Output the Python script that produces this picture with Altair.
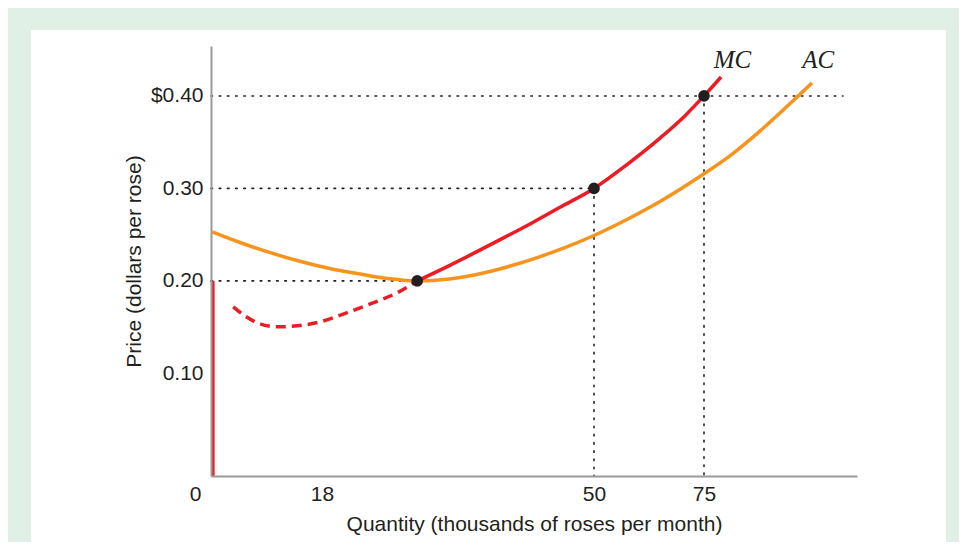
import altair as alt
import pandas as pd

# ---- data ----
Y_MIN = -0.011  # price level where the quantity axis sits

AC_Q = [0.2, 4.7, 9.1, 14.4, 19.3, 22.5, 25.2, 27.2, 29.2, 31.1, 35.1, 38.9, 42.8,
        46.8, 50.0, 60.5, 65.0, 75.0, 81.0, 87.8, 96.7, 99.7]
AC_P = [0.2530, 0.2415, 0.2316, 0.2212, 0.2126, 0.2074, 0.2032, 0.2011, 0.2000,
        0.2005, 0.2050, 0.2129, 0.2236, 0.2368, 0.2491, 0.2739, 0.2858, 0.3158,
        0.3355, 0.3620, 0.4006, 0.4140]

MC_DASH_Q = [3.6, 5.5, 7.5, 10.7, 14.0, 17.7, 20.9, 24.0, 26.8, 29.2]
MC_DASH_P = [0.1719, 0.1622, 0.1546, 0.1503, 0.1514, 0.1557, 0.1654, 0.1762, 0.1870, 0.200]

MC_Q = [29.2, 33.1, 38.9, 42.8, 46.0, 50.0, 57.5, 65.0, 70.7, 75.0, 78.9]
MC_P = [0.200, 0.2171, 0.2443, 0.2632, 0.2796, 0.300, 0.3258, 0.3544, 0.3787,
        0.400, 0.4205]

PTS_Q = [29.2, 50, 75]
PTS_P = [0.20, 0.30, 0.40]

SHUT_Q = [0.3]
SHUT_P_LOW = [Y_MIN]
SHUT_P_HIGH = [0.20]

GUIDE_X1 = [0, 0, 0, 50, 75]
GUIDE_X2 = [29.2, 50, 106.8, 50, 75]
GUIDE_Y1 = [0.20, 0.30, 0.40, 0.30, 0.40]
GUIDE_Y2 = [0.20, 0.30, 0.40, Y_MIN, Y_MIN]

LABELS = ["MC", "AC"]
LABEL_Q = [81.5, 101.1]
LABEL_P = [0.430, 0.430]

X_TICKS = [0, 18, 50, 75]
Y_TICKS = [0.10, 0.20, 0.30, 0.40]

# ---- styles ----
RED = "#ed1c24"
ORANGE = "#f7941d"
INK = "#231f20"
GREEN_BG = "#e1f0e7"
FONT = "Liberation Sans"

x_scale = alt.Scale(domain=[0, 18, 50, 75, 110], range=[0, 111, 383, 493, 646],
                    nice=False, zero=False)
y_scale = alt.Scale(domain=[Y_MIN, 0.454], nice=False, zero=False)

x_axis = alt.Axis(values=X_TICKS, title="Quantity (thousands of roses per month)",
                  grid=False, ticks=False, labelFlush=False, zindex=1,
                  labelOffset={"condition": {"test": "datum.value == 0", "value": -16}, "value": 0},
                  domainColor="#9a9a9a", domainWidth=2,
                  labelFont=FONT, labelFontSize=21, labelColor=INK, labelPadding=7,
                  titleFont=FONT, titleFontSize=21, titleFontWeight="normal",
                  titleColor=INK, titlePadding=9)
y_axis = alt.Axis(values=Y_TICKS, title="Price (dollars per rose)",
                  grid=False, ticks=False, zindex=1,
                  labelExpr="datum.value > 0.39 ? '$' + format(datum.value, '.2f') : format(datum.value, '.2f')",
                  domainColor="#9a9a9a", domainWidth=2,
                  labelFont=FONT, labelFontSize=21, labelColor=INK, labelPadding=8,
                  titleFont=FONT, titleFontSize=21, titleFontWeight="normal",
                  titleColor=INK, titlePadding=6)


def X(field):
    return alt.X(field, type="quantitative", scale=x_scale, axis=x_axis)


def Y(field):
    return alt.Y(field, type="quantitative", scale=y_scale, axis=y_axis)


panel = alt.Chart(pd.DataFrame({"a": [1]})).mark_rect(color="white").encode(
    x=alt.value(-180), x2=alt.value(735), y=alt.value(-16), y2=alt.value(560)
)

guides_df = pd.DataFrame({"x1": GUIDE_X1, "x2": GUIDE_X2, "y1": GUIDE_Y1, "y2": GUIDE_Y2})
guides = alt.Chart(guides_df).mark_rule(color=INK, strokeWidth=1.6,
                                        strokeDash=[1.6, 6.6], strokeCap="round").encode(
    x=X("x1"), x2="x2", y=Y("y1"), y2="y2"
)

ac = alt.Chart(pd.DataFrame({"q": AC_Q, "p": AC_P})).mark_line(
    color=ORANGE, strokeWidth=3.5, interpolate="monotone").encode(x=X("q"), y=Y("p"))

mc = alt.Chart(pd.DataFrame({"q": MC_Q, "p": MC_P})).mark_line(
    color=RED, strokeWidth=3.5, interpolate="monotone").encode(x=X("q"), y=Y("p"))

mc_dash = alt.Chart(pd.DataFrame({"q": MC_DASH_Q, "p": MC_DASH_P})).mark_line(
    color=RED, strokeWidth=3.5, strokeDash=[10, 6], interpolate="monotone").encode(
    x=X("q"), y=Y("p"))

shut = alt.Chart(pd.DataFrame({"q": SHUT_Q, "lo": SHUT_P_LOW, "hi": SHUT_P_HIGH})).mark_rule(
    color=RED, strokeWidth=3.5).encode(x=X("q"), y=Y("lo"), y2="hi")

pts = alt.Chart(pd.DataFrame({"q": PTS_Q, "p": PTS_P})).mark_circle(
    color=INK, size=135, opacity=1).encode(x=X("q"), y=Y("p"))

labels = alt.Chart(pd.DataFrame({"t": LABELS, "q": LABEL_Q, "p": LABEL_P})).mark_text(
    font="Liberation Serif", fontStyle="italic", fontSize=25, color=INK,
    align="center", baseline="alphabetic").encode(x=X("q"), y=Y("p"), text="t")

chart = alt.layer(panel, guides, ac, mc, mc_dash, shut, pts, labels).properties(
    width=646, height=430,
    autosize=alt.AutoSizeParams(type="none"),
    padding={"left": 203, "top": 38, "right": 102, "bottom": 66},
    background=GREEN_BG,
).configure_view(stroke=None)

chart.save("out.html", embed_options={"renderer": "svg", "actions": False})
